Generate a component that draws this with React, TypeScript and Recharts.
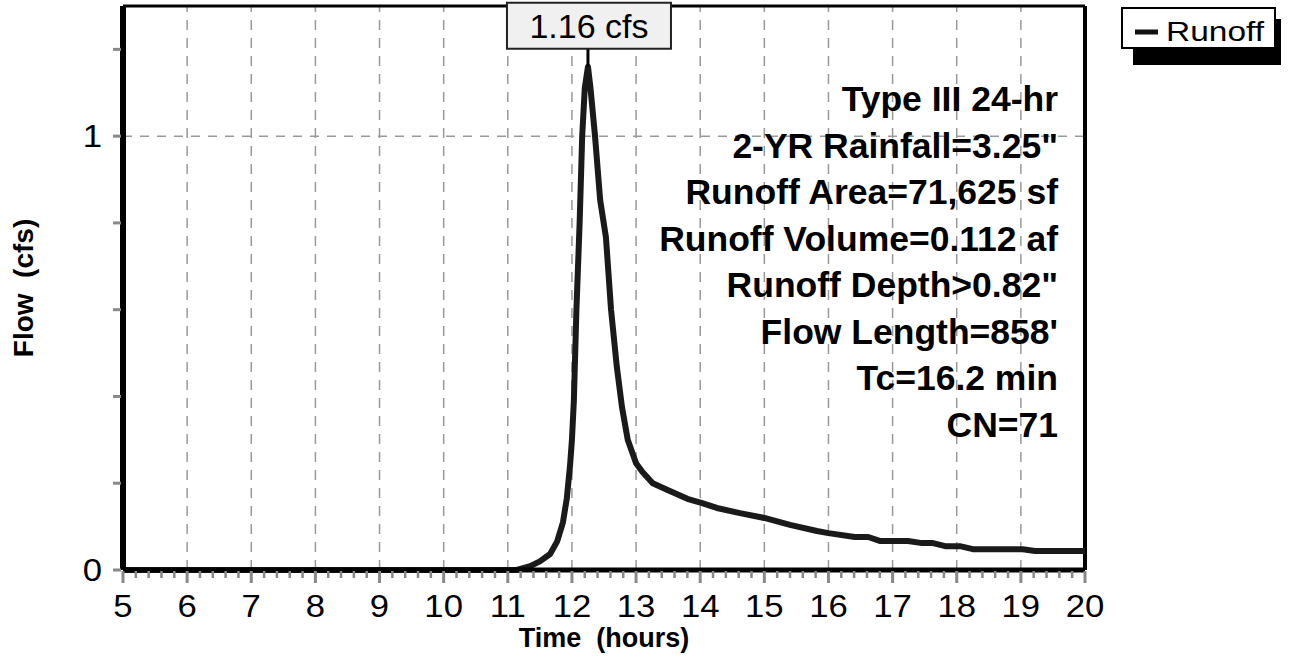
import React from 'react';
import { LineChart, Line, XAxis, YAxis, ReferenceLine, ReferenceDot } from 'recharts';

// Runoff hydrograph (hours, cfs)
const hours = [5, 11.14, 11.35, 11.5, 11.66, 11.77, 11.86, 11.92, 11.97, 12.0, 12.03, 12.07, 12.12, 12.16, 12.2, 12.25, 12.29, 12.36, 12.44, 12.53, 12.61, 12.7, 12.78, 12.87, 13.0, 13.1, 13.26, 13.5, 13.8, 14.03, 14.26, 14.62, 15.0, 15.4, 15.82, 16.0, 16.41, 16.62, 16.8, 17.24, 17.46, 17.63, 17.82, 18.05, 18.25, 19.03, 19.22, 20.0];
const flowCfs = [0, 0, 0.009, 0.02, 0.037, 0.066, 0.11, 0.165, 0.24, 0.3, 0.39, 0.6, 0.8, 1.0, 1.11, 1.16, 1.11, 1.0, 0.853, 0.767, 0.6, 0.468, 0.376, 0.3, 0.246, 0.226, 0.2, 0.184, 0.164, 0.154, 0.143, 0.131, 0.12, 0.104, 0.09, 0.085, 0.076, 0.076, 0.067, 0.067, 0.062, 0.062, 0.055, 0.055, 0.048, 0.048, 0.044, 0.044];

const peakHour = 12.25;
const peakFlow = 1.16;
const peakLabel = '1.16 cfs';

const xMajorTicks = [5, 6, 7, 8, 9, 10, 11, 12, 13, 14, 15, 16, 17, 18, 19, 20];
const xAllTicks = xMajorTicks.flatMap((m) =>
  m === 20 ? [20] : [0, 0.2, 0.4, 0.6, 0.8].map((f) => Math.round((m + f) * 10) / 10)
);
const xGridValues = [6, 7, 8, 9, 10, 11, 12, 13, 14, 15, 16, 17, 18, 19];
const yTicks = [0, 0.2, 0.4, 0.6, 0.8, 1, 1.2];
const yLabeledTicks = [0, 1];
const yGridValues = [1];

const seriesName = 'Runoff';
const xTitle = 'Time  (hours)';
const yTitle = 'Flow  (cfs)';
const notes = [
  'Type III 24-hr',
  '2-YR Rainfall=3.25"',
  'Runoff Area=71,625 sf',
  'Runoff Volume=0.112 af',
  'Runoff Depth>0.82"',
  "Flow Length=858'",
  'Tc=16.2 min',
  'CN=71',
];

const data = hours.map((h, i) => ({ hour: h, flow: flowCfs[i] }));

const FONT = '"Liberation Sans", Arial, Helvetica, sans-serif';

const XTick = (props: any) => {
  const { x, y, payload } = props;
  const v = payload.value;
  const major = Math.abs(v - Math.round(v)) < 1e-6;
  return (
    <g>
      <line x1={x} x2={x} y1={y + 1} y2={y + (major ? 13 : 8)} stroke="#888" strokeWidth={major ? 3 : 2.5} />
      {major && (
        <text
          transform={`translate(${x},${y + 47}) scale(1.12,1)`}
          textAnchor="middle"
          fontSize={31}
          fontFamily={FONT}
          fill="#000"
        >
          {v}
        </text>
      )}
    </g>
  );
};

const YTick = (props: any) => {
  const { x, y, payload } = props;
  const v = payload.value;
  const labeled = yLabeledTicks.includes(v);
  return (
    <g>
      <line x1={x - 10} x2={x - 2} y1={y} y2={y} stroke="#888" strokeWidth={3} />
      {labeled && (
        <text
          transform={`translate(${x - 21},${y + 11}) scale(1.12,1)`}
          textAnchor="end"
          fontSize={31}
          fontFamily={FONT}
          fill="#000"
        >
          {v}
        </text>
      )}
    </g>
  );
};

const PeakShape = (props: any) => {
  const { cx, cy } = props;
  const bx = cx + 1;
  return (
    <g>
      <line x1={cx} x2={cx} y1={cy} y2={cy - 18} stroke="#000" strokeWidth={3} />
      <rect x={bx - 82} y={cy - 64} width={164} height={46} fill="#f0f0f0" stroke="#222" strokeWidth={2} />
      <text x={bx} y={cy - 29} textAnchor="middle" fontSize={34} fontFamily={FONT} fill="#000">
        {peakLabel}
      </text>
    </g>
  );
};

export default function App() {
  return (
    <div style={{ position: 'absolute', left: 0, top: 0, width: 1291, height: 661, background: '#fff' }}>
      <LineChart
        width={1291}
        height={661}
        data={data}
        margin={{ top: 6, right: 206, bottom: 41, left: 63 }}
      >
        <XAxis
          type="number"
          dataKey="hour"
          domain={[5, 20]}
          ticks={xAllTicks}
          interval={0}
          tickSize={0}
          tickMargin={0}
          tick={<XTick />}
          height={50}
          axisLine={{ stroke: '#000', strokeWidth: 5 }}
          tickLine={false}
        />
        <YAxis
          type="number"
          domain={[0, 1.3]}
          ticks={yTicks}
          interval={0}
          tickSize={0}
          tickMargin={0}
          tick={<YTick />}
          width={60}
          axisLine={{ stroke: '#000', strokeWidth: 6 }}
          tickLine={false}
        />
        {xGridValues.map((v) => (
          <ReferenceLine key={`gx${v}`} x={v} stroke="#999" strokeWidth={1.5} strokeDasharray="10 8" />
        ))}
        {yGridValues.map((v) => (
          <ReferenceLine key={`gy${v}`} y={v} stroke="#999" strokeWidth={1.5} strokeDasharray="9 8" />
        ))}
        <ReferenceLine y={0} stroke="#888" strokeWidth={1.5} strokeDasharray="9 8" />
        <ReferenceLine y={1.3} stroke="#000" strokeWidth={3} />
        <ReferenceLine x={20} stroke="#000" strokeWidth={4} />
        <Line
          type="linear"
          dataKey="flow"
          name={seriesName}
          stroke="#1a1a1a"
          strokeWidth={6}
          strokeLinejoin="round"
          dot={false}
          activeDot={false}
          isAnimationActive={false}
        />
        <ReferenceDot x={peakHour} y={peakFlow} r={0} ifOverflow="visible" shape={PeakShape} />
      </LineChart>
      <svg
        width={1291}
        height={661}
        style={{ position: 'absolute', left: 0, top: 0, pointerEvents: 'none' }}
      >
        {notes.map((t, i) => (
          <text
            key={t}
            x={1058}
            y={111 + i * 46.5}
            textAnchor="end"
            fontSize={35.5}
            fontWeight="bold"
            fontFamily={FONT}
            fill="#000"
          >
            {t}
          </text>
        ))}
        <text
          transform="translate(33,288) rotate(-90)"
          textAnchor="middle"
          fontSize={28}
          fontWeight="bold"
          fontFamily={FONT}
          fill="#000"
          style={{ whiteSpace: 'pre' }}
        >
          {yTitle}
        </text>
        <text
          x={604}
          y={647}
          textAnchor="middle"
          fontSize={27}
          fontWeight="bold"
          fontFamily={FONT}
          fill="#000"
          style={{ whiteSpace: 'pre' }}
        >
          {xTitle}
        </text>
        <rect x={1133} y={19} width={148} height={46} fill="#000" />
        <rect x={1122} y={8} width={153} height={40} fill="#fff" stroke="#000" strokeWidth={2} />
        <line x1={1135} x2={1158} y1={32} y2={32} stroke="#111" strokeWidth={5} />
        <text
          x={1166}
          y={41}
          fontSize={28}
          fontFamily={FONT}
          fill="#000"
          textLength={98}
          lengthAdjust="spacingAndGlyphs"
        >
          {seriesName}
        </text>
      </svg>
    </div>
  );
}
